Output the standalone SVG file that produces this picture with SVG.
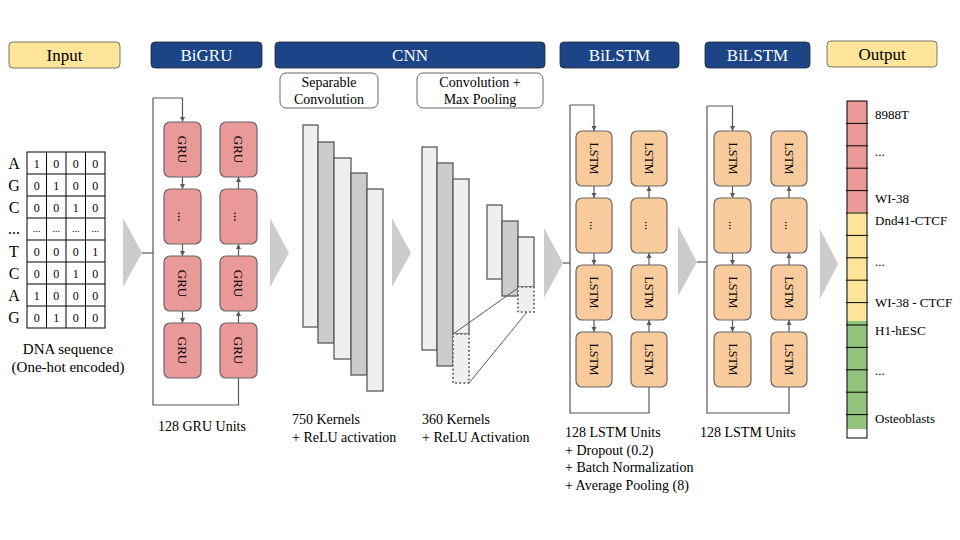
<svg xmlns="http://www.w3.org/2000/svg" width="960" height="540" viewBox="0 0 960 540" font-family="'Liberation Serif', serif">
<style>
text{font-family:"Liberation Serif",serif;fill:#000}
.hdr{fill:#1c4587;stroke:#2a2a2a;stroke-width:0.8}
.hdrt{font-size:17px;fill:#fff;text-anchor:middle}
.yel{fill:#ffe599;stroke:#555;stroke-width:0.8}
.yt{font-size:17px;text-anchor:middle}
.gru{fill:#ea9999;stroke:#666;stroke-width:1.2}
.lstm{fill:#f9cb9c;stroke:#666;stroke-width:1.2}
.bt{font-size:13px;text-anchor:middle;dominant-baseline:central}
.lt{font-size:12px;text-anchor:middle;dominant-baseline:central}
.ln{fill:none;stroke:#595959;stroke-width:1.2}
.chev{fill:#cccccc}
.cell{fill:#fff;stroke:#000;stroke-width:1}
.ct{font-size:12px;text-anchor:middle}
.let{font-size:16px;text-anchor:middle}
.lbl{font-size:14px}
.sub{fill:#fff;stroke:#666;stroke-width:1}
.st{font-size:14px;text-anchor:middle}
.lb{fill:#efefef;stroke:#595959;stroke-width:1.3}
.db{fill:#cccccc;stroke:#595959;stroke-width:1.3}
.dot{fill:#efefef;stroke:#666;stroke-width:2;stroke-dasharray:0.1 4;stroke-linecap:round}
.ot{font-size:13px}
.tick{stroke:#000;stroke-width:1}
</style>
<defs>
<marker id="ah" markerWidth="6" markerHeight="6" refX="5" refY="3" orient="auto" markerUnits="userSpaceOnUse"><path d="M0,0.5 L5,3 L0,5.5 z" fill="#595959"/></marker>
</defs>
<rect width="960" height="540" fill="#fff"/>

<!-- headers -->
<g id="hdr-input"><rect class="yel" x="9" y="42" width="111" height="26" rx="4"/><text class="yt" x="64.5" y="61">Input</text></g>
<g id="hdr-bigru"><rect class="hdr" x="151" y="42" width="111" height="26" rx="4"/><text class="hdrt" x="206.5" y="61">BiGRU</text></g>
<g id="hdr-cnn"><rect class="hdr" x="275" y="42" width="270" height="26" rx="4"/><text class="hdrt" x="410" y="61">CNN</text></g>
<g id="hdr-bilstm1"><rect class="hdr" x="560" y="42" width="119" height="26" rx="4"/><text class="hdrt" x="619.5" y="61">BiLSTM</text></g>
<g id="hdr-bilstm2"><rect class="hdr" x="705" y="42" width="105" height="26" rx="4"/><text class="hdrt" x="757.5" y="61">BiLSTM</text></g>
<g id="hdr-output"><rect class="yel" x="827" y="41" width="110" height="26" rx="4"/><text class="yt" x="882" y="60">Output</text></g>

<!-- input matrix -->
<g id="input-matrix">
<rect class="cell" x="27" y="152" width="78" height="176"/>
<path class="tick" d="M46.5,152V328M66,152V328M85.5,152V328M27,174H105M27,196H105M27,218H105M27,240H105M27,262H105M27,284H105M27,306H105" fill="none"/>
<text class="let" x="14" y="169">A</text><text class="let" x="14" y="191">G</text><text class="let" x="14" y="213">C</text><text class="let" x="14" y="234">...</text>
<text class="let" x="14" y="257">T</text><text class="let" x="14" y="279">C</text><text class="let" x="14" y="301">A</text><text class="let" x="14" y="323">G</text>
<text class="ct" y="167.5"><tspan x="36.7">1</tspan><tspan x="56.2">0</tspan><tspan x="75.7">0</tspan><tspan x="95.2">0</tspan></text>
<text class="ct" y="189.5"><tspan x="36.7">0</tspan><tspan x="56.2">1</tspan><tspan x="75.7">0</tspan><tspan x="95.2">0</tspan></text>
<text class="ct" y="211.5"><tspan x="36.7">0</tspan><tspan x="56.2">0</tspan><tspan x="75.7">1</tspan><tspan x="95.2">0</tspan></text>
<text class="ct" y="232" style="font-size:10px"><tspan x="36.7">...</tspan><tspan x="56.2">...</tspan><tspan x="75.7">...</tspan><tspan x="95.2">...</tspan></text>
<text class="ct" y="255.5"><tspan x="36.7">0</tspan><tspan x="56.2">0</tspan><tspan x="75.7">0</tspan><tspan x="95.2">1</tspan></text>
<text class="ct" y="277.5"><tspan x="36.7">0</tspan><tspan x="56.2">0</tspan><tspan x="75.7">1</tspan><tspan x="95.2">0</tspan></text>
<text class="ct" y="299.5"><tspan x="36.7">1</tspan><tspan x="56.2">0</tspan><tspan x="75.7">0</tspan><tspan x="95.2">0</tspan></text>
<text class="ct" y="321.5"><tspan x="36.7">0</tspan><tspan x="56.2">1</tspan><tspan x="75.7">0</tspan><tspan x="95.2">0</tspan></text>
<text class="st" x="68" y="354" style="font-size:15px">DNA sequence</text>
<text class="st" x="68" y="372" style="font-size:15px">(One-hot encoded)</text>
</g>

<!-- connectors -->
<g id="connectors">
<polygon class="chev" points="123,218 142,253 123,287"/>
<polygon class="chev" points="270,218 289,253 270,287"/>
<polygon class="chev" points="392,218 411,253 392,287"/>
<polygon class="chev" points="544,228 563,263 544,298"/>
<polygon class="chev" points="678,226 697,262 678,296"/>
<polygon class="chev" points="820,229 838,264 820,299"/>
<path class="ln" d="M142,253H153"/>
<path class="ln" d="M153,98H182.5V122" marker-end="url(#ah)"/>
<path class="ln" d="M153,98V405H238.5V378"/>
<path class="ln" d="M182.5,177V189" marker-end="url(#ah)"/>
<path class="ln" d="M182.5,244V256" marker-end="url(#ah)"/>
<path class="ln" d="M182.5,311V323" marker-end="url(#ah)"/>
<path class="ln" d="M238.5,323V311" marker-end="url(#ah)"/>
<path class="ln" d="M238.5,256V244" marker-end="url(#ah)"/>
<path class="ln" d="M238.5,189V177" marker-end="url(#ah)"/>
<path class="ln" d="M563,263H570"/>
<path class="ln" d="M570,105H594V131" marker-end="url(#ah)"/>
<path class="ln" d="M570,105V413H649V387"/>
<path class="ln" d="M594,186V198" marker-end="url(#ah)"/>
<path class="ln" d="M594,253V265" marker-end="url(#ah)"/>
<path class="ln" d="M594,320V332" marker-end="url(#ah)"/>
<path class="ln" d="M649,332V320" marker-end="url(#ah)"/>
<path class="ln" d="M649,265V253" marker-end="url(#ah)"/>
<path class="ln" d="M649,198V186" marker-end="url(#ah)"/>
<path class="ln" d="M697,262H707"/>
<path class="ln" d="M707,106H732.5V131" marker-end="url(#ah)"/>
<path class="ln" d="M707,106V413H789V387"/>
<path class="ln" d="M732.5,186V198" marker-end="url(#ah)"/>
<path class="ln" d="M732.5,253V265" marker-end="url(#ah)"/>
<path class="ln" d="M732.5,320V332" marker-end="url(#ah)"/>
<path class="ln" d="M789,332V320" marker-end="url(#ah)"/>
<path class="ln" d="M789,265V253" marker-end="url(#ah)"/>
<path class="ln" d="M789,198V186" marker-end="url(#ah)"/>
</g>

<!-- BiGRU nodes -->
<g id="bigru">
<g id="gru-f1"><rect class="gru" x="164" y="122" width="37" height="55" rx="6"/><text class="bt" transform="translate(182.5,149.5) rotate(90)">GRU</text></g>
<g id="gru-f2"><rect class="gru" x="164" y="189" width="37" height="55" rx="6"/><text class="bt" transform="translate(182.5,216.5) rotate(90)">...</text></g>
<g id="gru-f3"><rect class="gru" x="164" y="256" width="37" height="55" rx="6"/><text class="bt" transform="translate(182.5,283.5) rotate(90)">GRU</text></g>
<g id="gru-f4"><rect class="gru" x="164" y="323" width="37" height="55" rx="6"/><text class="bt" transform="translate(182.5,350.5) rotate(90)">GRU</text></g>
<g id="gru-b1"><rect class="gru" x="220" y="122" width="37" height="55" rx="6"/><text class="bt" transform="translate(238.5,149.5) rotate(90)">GRU</text></g>
<g id="gru-b2"><rect class="gru" x="220" y="189" width="37" height="55" rx="6"/><text class="bt" transform="translate(238.5,216.5) rotate(90)">...</text></g>
<g id="gru-b3"><rect class="gru" x="220" y="256" width="37" height="55" rx="6"/><text class="bt" transform="translate(238.5,283.5) rotate(90)">GRU</text></g>
<g id="gru-b4"><rect class="gru" x="220" y="323" width="37" height="55" rx="6"/><text class="bt" transform="translate(238.5,350.5) rotate(90)">GRU</text></g>
<text class="lbl" x="158" y="431">128 GRU Units</text>
</g>

<!-- CNN -->
<g id="cnn">
<g id="sepconv-label"><rect class="sub" x="280" y="73" width="98" height="35" rx="6"/><text class="st" x="329" y="87">Separable</text><text class="st" x="329" y="104">Convolution</text></g>
<g id="convpool-label"><rect class="sub" x="417" y="73" width="126" height="35" rx="6"/><text class="st" x="480" y="87">Convolution +</text><text class="st" x="480" y="104">Max Pooling</text></g>
<g id="sepconv-stack">
<rect class="lb" x="303" y="125" width="15" height="202"/>
<rect class="db" x="318" y="142" width="16" height="201"/>
<rect class="lb" x="334" y="158" width="17" height="201"/>
<rect class="db" x="351" y="173" width="16" height="202"/>
<rect class="lb" x="367" y="189" width="16" height="202"/>
<text class="lbl" x="292" y="424">750 Kernels</text>
<text class="lbl" x="292" y="442">+ ReLU activation</text>
</g>
<g id="conv-stack">
<rect class="lb" x="422" y="147" width="15" height="203"/>
<rect class="db" x="437" y="163" width="16" height="203"/>
<rect class="lb" x="453" y="179" width="16" height="155"/>
<rect class="dot" x="453" y="334" width="16" height="49"/>
<text class="lbl" x="422" y="424">360 Kernels</text>
<text class="lbl" x="422" y="442">+ ReLU Activation</text>
</g>
<g id="pool-stack">
<rect class="lb" x="487" y="205" width="15" height="74"/>
<rect class="db" x="502" y="221" width="16" height="75"/>
<rect class="lb" x="518" y="237" width="16" height="50"/>
<rect class="dot" x="518" y="287" width="16" height="25"/>
<path class="ln" d="M453,334L518,288M469,383L527,312" style="stroke-width:1"/>
</g>
</g>

<!-- BiLSTM 1 -->
<g id="bilstm1">
<g id="l1-f1"><rect class="lstm" x="576" y="131" width="36" height="55" rx="6"/><text class="lt" transform="translate(594,158.5) rotate(90)">LSTM</text></g>
<g id="l1-f2"><rect class="lstm" x="576" y="198" width="36" height="55" rx="6"/><text class="lt" transform="translate(594,225.5) rotate(90)">...</text></g>
<g id="l1-f3"><rect class="lstm" x="576" y="265" width="36" height="55" rx="6"/><text class="lt" transform="translate(594,292.5) rotate(90)">LSTM</text></g>
<g id="l1-f4"><rect class="lstm" x="576" y="332" width="36" height="55" rx="6"/><text class="lt" transform="translate(594,359.5) rotate(90)">LSTM</text></g>
<g id="l1-b1"><rect class="lstm" x="631" y="131" width="36" height="55" rx="6"/><text class="lt" transform="translate(649,158.5) rotate(90)">LSTM</text></g>
<g id="l1-b2"><rect class="lstm" x="631" y="198" width="36" height="55" rx="6"/><text class="lt" transform="translate(649,225.5) rotate(90)">...</text></g>
<g id="l1-b3"><rect class="lstm" x="631" y="265" width="36" height="55" rx="6"/><text class="lt" transform="translate(649,292.5) rotate(90)">LSTM</text></g>
<g id="l1-b4"><rect class="lstm" x="631" y="332" width="36" height="55" rx="6"/><text class="lt" transform="translate(649,359.5) rotate(90)">LSTM</text></g>
<text class="lbl" x="565" y="437">128 LSTM Units</text>
<text class="lbl" x="565" y="455">+ Dropout (0.2)</text>
<text class="lbl" x="565" y="472">+ Batch Normalization</text>
<text class="lbl" x="565" y="490">+ Average Pooling (8)</text>
</g>

<!-- BiLSTM 2 -->
<g id="bilstm2">
<g id="l2-f1"><rect class="lstm" x="714" y="131" width="37" height="55" rx="6"/><text class="lt" transform="translate(732.5,158.5) rotate(90)">LSTM</text></g>
<g id="l2-f2"><rect class="lstm" x="714" y="198" width="37" height="55" rx="6"/><text class="lt" transform="translate(732.5,225.5) rotate(90)">...</text></g>
<g id="l2-f3"><rect class="lstm" x="714" y="265" width="37" height="55" rx="6"/><text class="lt" transform="translate(732.5,292.5) rotate(90)">LSTM</text></g>
<g id="l2-f4"><rect class="lstm" x="714" y="332" width="37" height="55" rx="6"/><text class="lt" transform="translate(732.5,359.5) rotate(90)">LSTM</text></g>
<g id="l2-b1"><rect class="lstm" x="771" y="131" width="36" height="55" rx="6"/><text class="lt" transform="translate(789,158.5) rotate(90)">LSTM</text></g>
<g id="l2-b2"><rect class="lstm" x="771" y="198" width="36" height="55" rx="6"/><text class="lt" transform="translate(789,225.5) rotate(90)">...</text></g>
<g id="l2-b3"><rect class="lstm" x="771" y="265" width="36" height="55" rx="6"/><text class="lt" transform="translate(789,292.5) rotate(90)">LSTM</text></g>
<g id="l2-b4"><rect class="lstm" x="771" y="332" width="36" height="55" rx="6"/><text class="lt" transform="translate(789,359.5) rotate(90)">LSTM</text></g>
<text class="lbl" x="700" y="437">128 LSTM Units</text>
</g>

<!-- Output -->
<g id="output">
<rect x="847" y="101" width="20" height="111" fill="#ea9999"/>
<rect x="847" y="212" width="20" height="109" fill="#ffe599"/>
<rect x="847" y="321" width="20" height="108" fill="#93c47d"/>
<rect x="847" y="101" width="20" height="337" fill="none" stroke="#000" stroke-width="1"/>
<path class="tick" d="M846,123.4H868M846,145.8H868M846,168.2H868M846,190.6H868M846,213H868M846,235.4H868M846,257.8H868M846,280.2H868M846,302.6H868M846,325H868M846,347.4H868M846,369.8H868M846,392.2H868M846,414.6H868"/>
<text class="ot" x="875" y="118.5">8988T</text>
<text class="ot" x="875" y="156">...</text>
<text class="ot" x="875" y="202.5">WI-38</text>
<text class="ot" x="875" y="224.5">Dnd41-CTCF</text>
<text class="ot" x="875" y="266">...</text>
<text class="ot" x="875" y="306.5">WI-38 - CTCF</text>
<text class="ot" x="875" y="334.5">H1-hESC</text>
<text class="ot" x="875" y="375">...</text>
<text class="ot" x="875" y="422.5">Osteoblasts</text>
</g>
</svg>
